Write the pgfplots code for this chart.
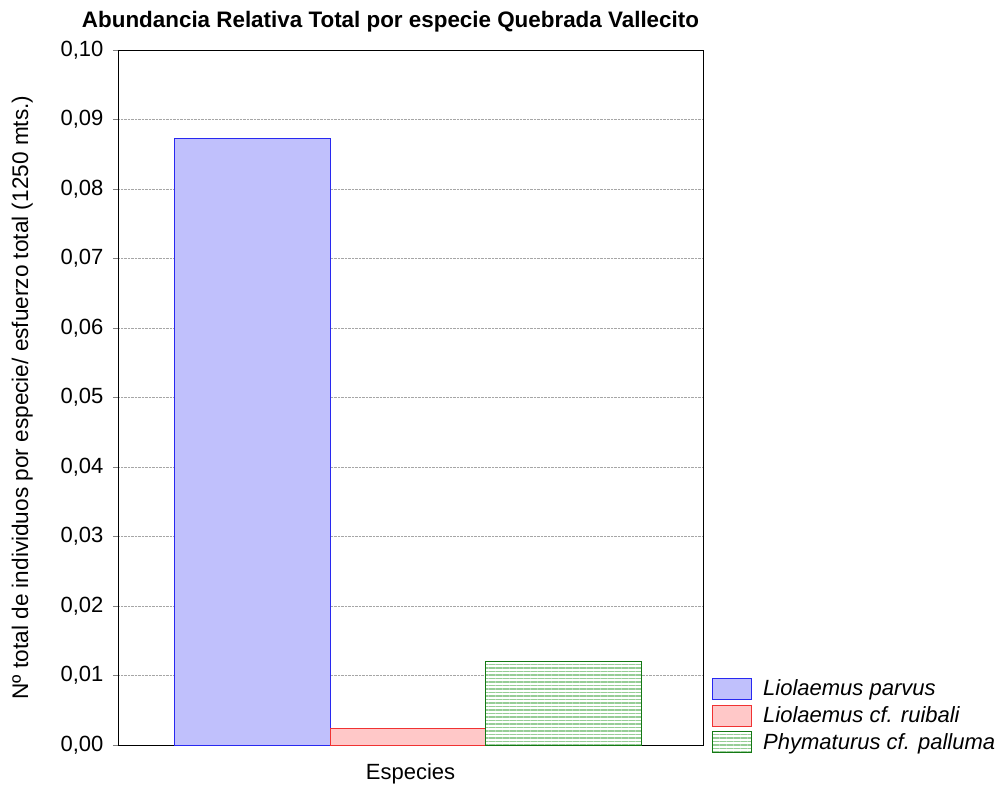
\documentclass[border=0pt]{standalone}
\usepackage{pgfplots}
\pgfplotsset{compat=1.18}
\usepackage{fontspec}
\setmainfont{Liberation Sans}
\usetikzlibrary{patterns.meta}
\definecolor{bfill}{RGB}{192,192,252}
\definecolor{bdraw}{RGB}{40,40,240}
\definecolor{rfill}{RGB}{255,200,200}
\definecolor{rdraw}{RGB}{240,50,50}
\definecolor{gline}{RGB}{150,205,150}
\definecolor{gdraw}{RGB}{20,120,20}
\begin{document}
\fontsize{22}{25}\selectfont
\begin{tikzpicture}
\useasboundingbox (-118pt,-42pt) rectangle (883pt,745pt);
\begin{axis}[
  at={(0,0)}, anchor=south west,
  scale only axis, width=585pt, height=695pt,
  xmin=0.1334, xmax=3.899, ymin=0, ymax=0.10,
  xtick=\empty,
  ytick={0,0.01,...,0.10},
  ytick pos=left, tick align=outside,
  major tick length=5pt,
  tick label style={font=\fontsize{22}{25}\selectfont},
  yticklabel style={xshift=-2pt, /pgf/number format/.cd, fixed, fixed zerofill, precision=2, use comma, assume math mode=true},
  ymajorgrids, grid style={densely dotted, gray!70},
  xlabel={Especies}, xlabel style={font=\fontsize{22}{25}\selectfont, yshift=-6pt},
  ylabel={Nº total de individuos por especie/ esfuerzo total (1250 mts.)},
  ylabel style={font=\fontsize{22.6}{25}\selectfont, yshift=13pt},
  title={\bfseries Abundancia Relativa Total por especie Quebrada Vallecito},
  title style={font=\fontsize{22.4}{25}\selectfont, yshift=4pt, xshift=-20pt},
  ybar, bar width=1, bar shift=0pt,
  legend style={at={(1.0154,-0.014)}, anchor=south west, draw=none, fill=none,
    font=\fontsize{22}{25}\selectfont\itshape, row sep=3.5pt, inner sep=0pt,
    cells={anchor=west}},
  legend image code/.code={\draw[#1] (0pt,-10pt) rectangle (39pt,11pt); \path (48pt,0pt);},
]
\addplot[fill=bfill, draw=bdraw, line width=1pt] coordinates {(1,0.0872)};
\addlegendentry{Liolaemus parvus}
\addplot[fill=rfill, draw=rdraw, line width=1pt] coordinates {(2,0.0024)};
\addlegendentry{Liolaemus cf. ruibali}
\addplot[fill=white, draw=gdraw, line width=1pt, postaction={pattern={Lines[angle=0,distance=3.5pt,line width=1.75pt]}, pattern color=gline}] coordinates {(3,0.012)};
\addlegendentry{Phymaturus cf. palluma}
\end{axis}
\end{tikzpicture}
\end{document}
